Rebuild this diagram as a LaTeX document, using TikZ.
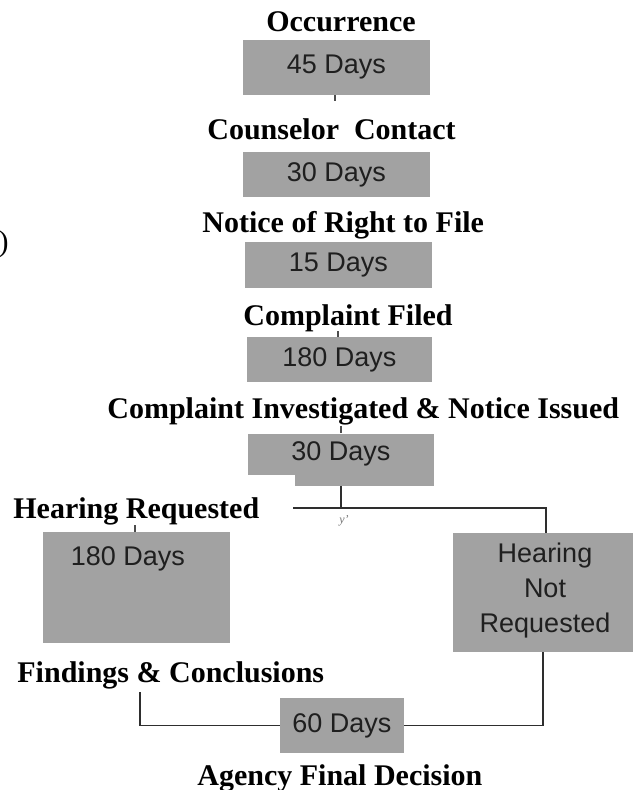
\documentclass[tikz,border=0pt]{standalone}
\usepackage{fontspec}
\setmainfont{Liberation Serif}
\setsansfont{Liberation Sans}
\definecolor{boxgray}{HTML}{A2A2A2}
\begin{document}
\begin{tikzpicture}[x=0.5pt,y=-0.5pt,
  ttl/.style={font=\fontsize{15}{18}\selectfont\bfseries, inner sep=0, anchor=base west},
  box/.style={fill=boxgray, draw=none, inner sep=0, font=\fontsize{13.5}{17.5}\selectfont\sffamily, text=black!88},
  conn/.style={draw=black!82, line width=0.9pt},
  stub/.style={draw=black!70, line width=0.6pt}]
\useasboundingbox (0,0) rectangle (633,790);

% titles
\node[ttl, anchor=base] (t1) at (341,32) {Occurrence};
\node[ttl] (t2) at (207,140) {Counselor\hspace{0.5em}Contact};
\node[ttl] (t3) at (202,233) {Notice of Right to File};
\node[ttl] (t4) at (243,326) {Complaint Filed};
\node[ttl] (t5) at (107,418) {Complaint Investigated \& Notice Issued};
\node[ttl] (t6) at (13,518) {Hearing Requested};
\node[ttl] (t7) at (17,682) {Findings \& Conclusions};
\node[ttl] (t8) at (197,785) {Agency Final Decision};

% scan fragments
\node[font=\fontsize{15}{18}\selectfont, inner sep=0, anchor=east] (paren) at (9,244) {)};
\node[font=\fontsize{6}{7}\selectfont\itshape, text=black!55, inner sep=0] (yy) at (344,521) {y'};

% boxes
\node[box, minimum width=93.5pt, minimum height=27.5pt] (b1) at (336.5,67.5) {45 Days};
\node[box, minimum width=93.5pt, minimum height=22.5pt] (b2) at (336.5,174.5) {30 Days};
\node[box, minimum width=93.5pt, minimum height=23pt] (b3) at (338.5,265) {15 Days};
\node[box, minimum width=92.5pt, minimum height=22.5pt] (b4) at (339.5,359.5) {180 Days};
\node[box, minimum width=93pt, minimum height=20.5pt] (b5) at (341,454) {30 Days};
\node[box, minimum width=69.5pt, minimum height=6pt] (b5x) at (364.5,479.5) {};
\node[box, minimum width=93.5pt, minimum height=55.5pt] (L) at (136.5,587.5) {};
\node[box, fill=none] (Ltxt) at (128,559) {180 Days};
\node[box, minimum width=90pt, minimum height=59.5pt] (R) at (543,592.5) {};
\node[box, fill=none, align=center] (Rtxt) at (545,591) {Hearing\\Not\\Requested};
\node[box, minimum width=62pt, minimum height=27.5pt] (b6) at (342,725.5) {60 Days};

% short stubs
\draw[stub] (b1.south -| 335,0) -- ++(0,6);
\draw[stub] (b4.north -| 338,0) -- ++(0,-6);
\draw[stub] (b5.north -| 341,0) -- ++(0,-7);
\draw[stub] (L.north -| 135,0) -- ++(0,-7);

% connectors
\coordinate (j) at (341,508);
\coordinate (st) at (293,508);
\coordinate (rt) at (546,508);
\coordinate (fl) at (140,692);
\coordinate (rb) at (543,652);
\draw[conn] (j |- b5x.south) -- (j);
\draw[conn] (st) -- (j) -- (rt) -- (rt |- R.north);
\draw[conn] (fl) -- (fl |- b6.west) -- (b6.west);
\draw[conn] (rb |- R.south) -- (rb |- b6.east) -- (b6.east);
\end{tikzpicture}
\end{document}
